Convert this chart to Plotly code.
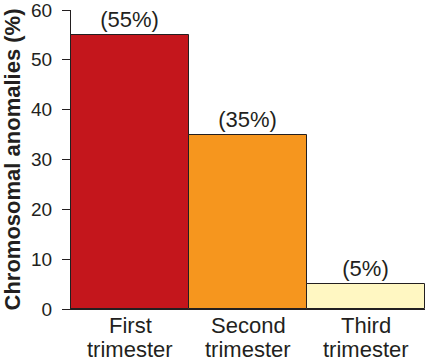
import plotly.graph_objects as go

categories = ["First trimester", "Second trimester", "Third trimester"]
line1 = ["First", "Second", "Third"]
line2 = ["trimester", "trimester", "trimester"]
values = [55, 35, 5]
labels = ["(55%)", "(35%)", "(5%)"]
colors = ["#c4161c", "#f6961e", "#fff7c2"]
ink = "#231f20"

fig = go.Figure()
fig.add_trace(go.Bar(
    x=categories, y=values,
    marker=dict(color=colors, line=dict(color=ink, width=1)),
    text=labels, textposition="outside", cliponaxis=False,
    textfont=dict(size=22, color=ink, family="Liberation Sans"),
))
for c, a, b in zip(categories, line1, line2):
    fig.add_annotation(x=c, y=0, xref="x", yref="paper", text=a, showarrow=False,
                       yanchor="top", yshift=-2, font=dict(size=22, color=ink))
    fig.add_annotation(x=c, y=0, xref="x", yref="paper", text=b, showarrow=False,
                       yanchor="top", yshift=-26, font=dict(size=22, color=ink))

fig.update_layout(
    width=426, height=362,
    margin=dict(l=71, r=1, t=10, b=53),
    paper_bgcolor="white", plot_bgcolor="white",
    bargap=0, showlegend=False,
    font=dict(family="Liberation Sans", color=ink),
)
fig.update_xaxes(
    range=[-0.5, 2.5], showline=True, linecolor=ink, linewidth=1,
    ticks="", showticklabels=False, showgrid=False,
)
fig.update_yaxes(
    range=[0, 60], dtick=10, showline=True, linecolor=ink, linewidth=1,
    ticks="outside", ticklen=8, tickcolor=ink, showgrid=False, zeroline=False,
    tickfont=dict(size=19, color=ink), ticklabelstandoff=6, ticklabeloverflow="allow",
    title=dict(text="<b>Chromosomal anomalies (%)</b>", font=dict(size=22, color=ink), standoff=4),
)
fig.write_html("out.html")
